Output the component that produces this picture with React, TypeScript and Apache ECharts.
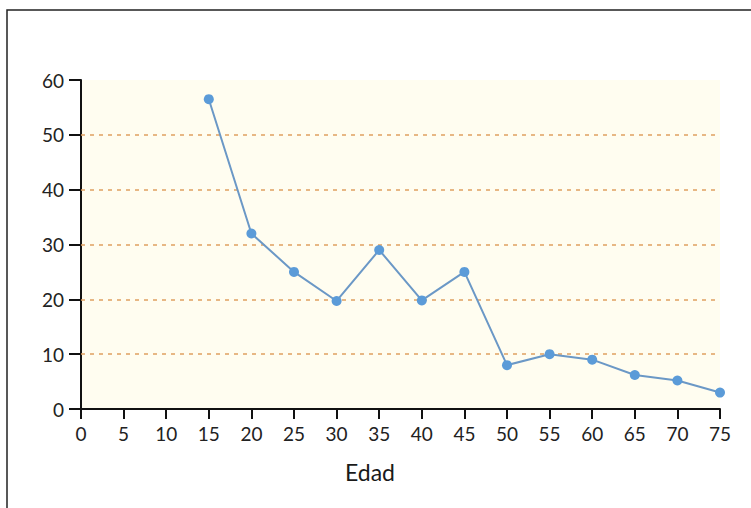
import React, { useEffect, useRef } from "react";
import * as echarts from "echarts";

const ages = [15, 20, 25, 30, 35, 40, 45, 50, 55, 60, 65, 70, 75];
const values = [56.5, 32, 25, 19.7, 29, 19.8, 25, 8, 10, 9, 6.2, 5.2, 3];
const gridValues = [10, 20, 30, 40, 50];
const xAxisTitle = "Edad";

const FONT = "Lato, 'Open Sans', sans-serif";

export default function App() {
  const ref = useRef<HTMLDivElement>(null);
  useEffect(() => {
    if (!ref.current) return;
    const chart = echarts.init(ref.current, undefined, { renderer: "svg" });
    chart.setOption({
      animation: false,
      backgroundColor: "#ffffff",
      grid: {
        left: 81,
        right: 31,
        top: 80,
        bottom: 99,
        show: true,
        backgroundColor: "#fffdf0",
        borderWidth: 0,
      },
      graphic: [
        {
          type: "polyline",
          shape: { points: [[7, 508], [7, 10], [751, 10]] },
          style: { stroke: "#222", lineWidth: 1.5, fill: "none" },
          silent: true,
        },
        {
          type: "text",
          x: 370,
          y: 472,
          style: {
            text: xAxisTitle,
            fontSize: 23,
            fill: "#1a1a1a",
            fontFamily: FONT,
            align: "center",
            verticalAlign: "middle",
          },
          silent: true,
        },
      ],
      xAxis: {
        type: "value",
        min: 0,
        max: 75,
        interval: 5,
        axisLine: { show: true, lineStyle: { color: "#111", width: 2 } },
        axisTick: { show: true, length: 10, lineStyle: { color: "#111", width: 2 } },
        axisLabel: { fontSize: 19, color: "#222", fontFamily: FONT, margin: 15 },
        splitLine: { show: false },
      },
      yAxis: {
        type: "value",
        min: 0,
        max: 60,
        interval: 10,
        axisLine: { show: true, lineStyle: { color: "#111", width: 2 } },
        axisTick: { show: true, length: 12, lineStyle: { color: "#111", width: 2 } },
        axisLabel: { fontSize: 19, color: "#222", fontFamily: FONT, margin: 17 },
        splitLine: { show: false },
      },
      series: [
        {
          type: "line",
          data: ages.map((a, i) => [a, values[i]]),
          symbol: "circle",
          symbolSize: 10,
          lineStyle: { color: "#6b98c6", width: 2 },
          itemStyle: { color: "#5b9bd8" },
          z: 5,
          markLine: {
            silent: true,
            symbol: "none",
            label: { show: false },
            lineStyle: { color: "#e0a060", type: [4, 5], width: 1.5 },
            data: gridValues.map((v) => ({ yAxis: v })),
            z: 1,
          },
        },
      ],
    });
    return () => chart.dispose();
  }, []);
  return (
    <div
      ref={ref}
      style={{ position: "fixed", left: 0, top: 0, width: 751, height: 508 }}
    />
  );
}
